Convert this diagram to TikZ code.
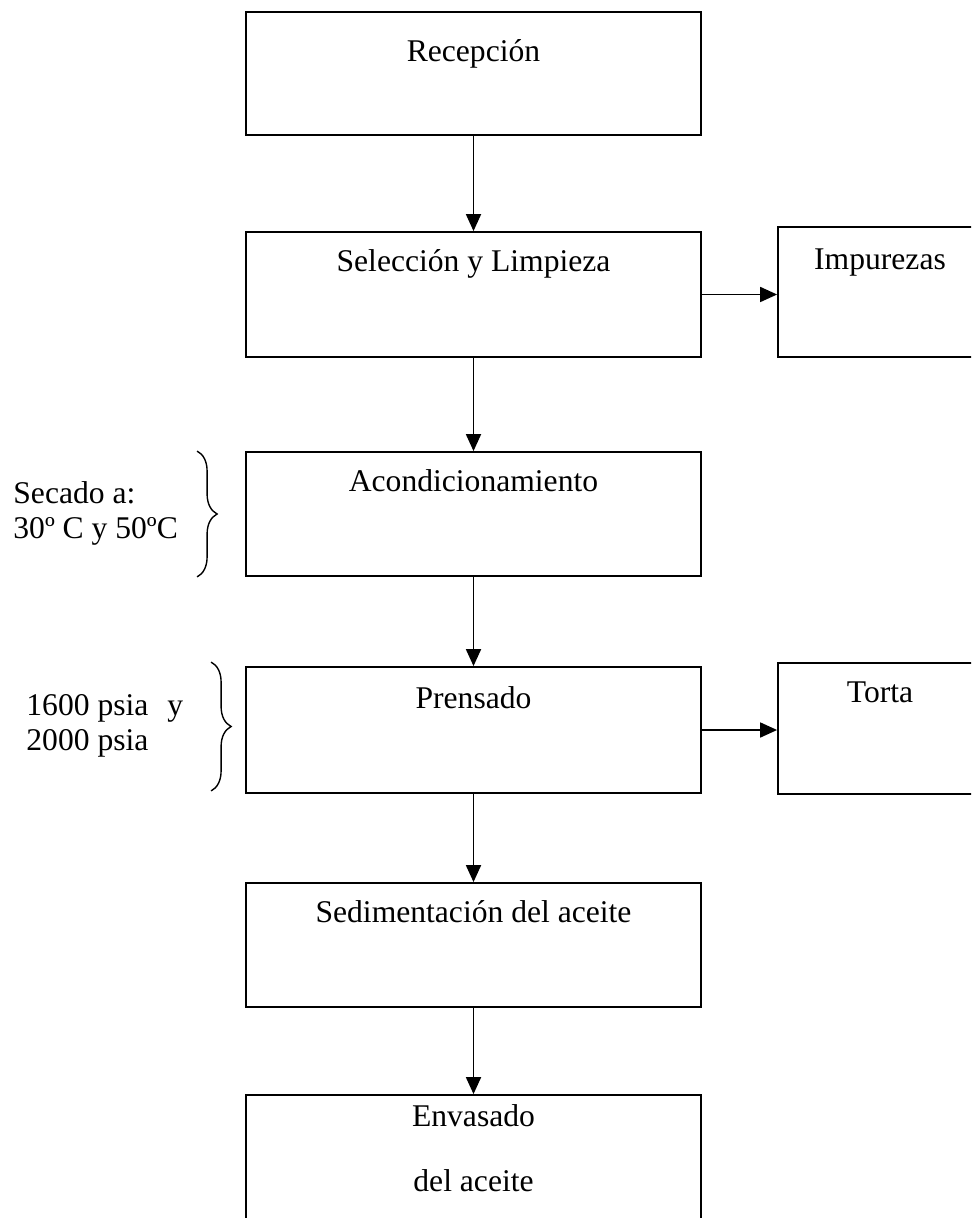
\documentclass[tikz,border=0pt]{standalone}
\usepackage{fontspec}
\setmainfont{Liberation Serif}
\usetikzlibrary{arrows.meta,positioning,decorations.pathreplacing}

\begin{document}
\begin{tikzpicture}[x=0.5pt, y=-0.5pt, font=\fontsize{15.8}{17.5}\selectfont,
  paso/.style={draw, line width=0.9pt, minimum width=227.5pt, inner sep=0pt},
  salida/.style={draw, line width=0.9pt, minimum width=111pt, inner sep=0pt},
  flecha/.style={-{Triangle[width=7.5pt,length=8.5pt]}, line width=0.9pt},
  llave/.style={decorate, decoration={brace, amplitude=10pt}, line width=0.7pt}]
  \useasboundingbox (0,0) rectangle (971,1218);
  \clip (0,0) rectangle (971,1218);

  % Process steps
  \node[paso, minimum height=61.5pt, label={[anchor=base, yshift=-25pt]north:Recepción}] (rec) at (473.5,73.5) {};
  \node[paso, minimum height=62.5pt, label={[anchor=base, yshift=-20pt]north:Selección y Limpieza}] (sel) at (473.5,294.5) {};
  \node[paso, minimum height=62pt, label={[anchor=base, yshift=-20pt]north:Acondicionamiento}] (aco) at (473.5,514) {};
  \node[paso, minimum height=63pt, label={[anchor=base, yshift=-21pt]north:Prensado}] (pre) at (473.5,730) {};
  \node[paso, minimum height=62pt, label={[anchor=base, yshift=-20pt]north:Sedimentación del aceite}] (sed) at (473.5,945) {};
  \node[paso, minimum height=70pt, label={[anchor=base, yshift=-16pt]north:Envasado}, label={[anchor=base, yshift=-48.5pt]north:del aceite}] (env) at (473.5,1165) {};

  % By-products
  \node[salida, minimum height=65pt, label={[anchor=base, xshift=-4.5pt, yshift=-21.5pt]north:Impurezas}] (imp) at (889,292) {};
  \node[salida, minimum height=65.5pt, label={[anchor=base, xshift=-4.5pt, yshift=-20pt]north:Torta}] (tor) at (889,728.5) {};

  % Flow
  \draw[flecha] (rec) -- (sel);
  \draw[flecha] (sel) -- (aco);
  \draw[flecha] (aco) -- (pre);
  \draw[flecha] (pre) -- (sed);
  \draw[flecha] (sed) -- (env);
  \draw[flecha] (sel.east) -- (sel.east -| imp.west);
  \draw[flecha] (pre.east) -- (pre.east -| tor.west);

  % Conditions
  \node[anchor=west, align=left, inner sep=0pt] (secado) at (13,513) {Secado a:\\30º C y 50ºC};
  \draw[llave] ([xshift=-24pt]aco.north west) -- ([xshift=-24pt]aco.south west);
  \node[anchor=west, align=left, inner sep=0pt] (presion) at (26,726) {1600 psia\hspace{0.6em}y\\2000 psia};
  \draw[llave] ([xshift=-17pt, yshift=2pt]pre.north west) -- ([xshift=-17pt, yshift=1.5pt]pre.south west);
\end{tikzpicture}
\end{document}
